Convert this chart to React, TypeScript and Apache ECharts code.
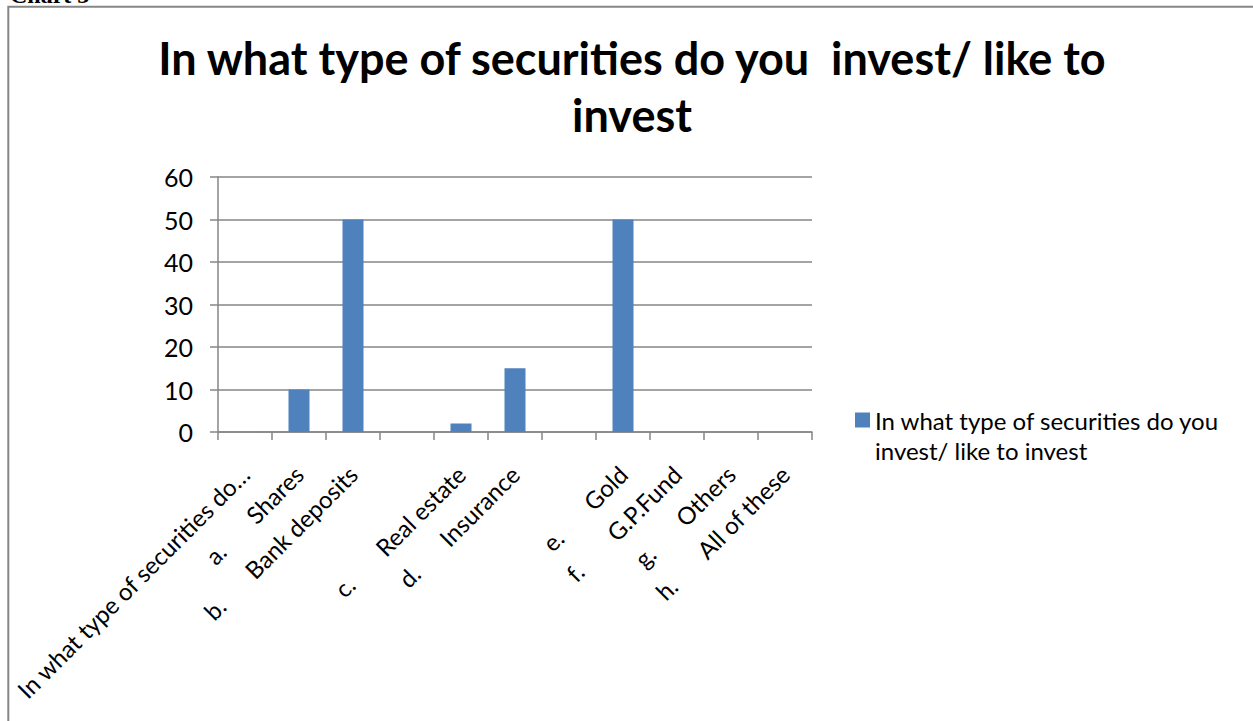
import React, { useEffect, useRef } from "react";
import * as echarts from "echarts";

// Survey question used as the chart title and the series name
const titleLines = ["In what type of securities do you  invest/ like to", "invest"];
const seriesName = "In what type of securities do you invest/ like to invest";
const legendLines = ["In what type of securities do you", "invest/ like to invest"];

// Category labels: item letter + option text ("" where the row has no label)
const categoryPrefixes = ["", "a.", "b.", "", "c.", "d.", "", "e.", "f.", "g.", "h."];
const categoryNames = [
  "In what type of securities do…",
  "Shares",
  "Bank deposits",
  "",
  "Real estate",
  "Insurance",
  "",
  "Gold",
  "G.P.Fund",
  "Others",
  "All of these",
];

// Number of respondents per option
const responseCounts = [0, 10, 50, 0, 2, 15, 0, 50, 0, 0, 0];

// Value axis ticks
const yTicks = [0, 10, 20, 30, 40, 50, 60];

const FONT = "Lato, 'Open Sans', sans-serif";
const AXIS_GRAY = "#868686";
const BAR_BLUE = "#4F81BD";
const LABEL_SIZE = 24;
const TAB_STOP = 58; // distance from the letter to the option text

function textWidth(s: string, font: string): number {
  const c = document.createElement("canvas").getContext("2d");
  if (!c) return s.length * 10;
  c.font = font;
  return c.measureText(s).width;
}

export default function App() {
  const ref = useRef<HTMLDivElement>(null);

  useEffect(() => {
    if (!ref.current) return;
    const chart = echarts.init(ref.current, undefined, { renderer: "svg" });

    const categories = categoryNames.map((n, i) =>
      categoryPrefixes[i] ? `${categoryPrefixes[i]}\u0001${n}` : n
    );
    const labelFont = `${LABEL_SIZE}px Lato`;

    chart.setOption({
      animation: false,
      backgroundColor: "#ffffff",
      textStyle: { fontFamily: FONT },
      title: {
        text: titleLines.join("\n"),
        left: 632,
        top: 29,
        padding: 0,
        textAlign: "center",
        textStyle: {
          fontFamily: FONT,
          fontSize: 45,
          fontWeight: "bold",
          color: "#000000",
          lineHeight: 57,
        },
      },
      legend: {
        left: 855,
        top: 375,
        padding: 0,
        itemWidth: 15,
        itemHeight: 15,
        icon: "rect",
        data: [seriesName],
        formatter: () => `{s|}\n{t|${legendLines[0]}}\n{t|${legendLines[1]}}`,
        textStyle: {
          fontFamily: FONT,
          fontSize: LABEL_SIZE,
          color: "#000000",
          lineHeight: 30,
          rich: {
            s: { height: 30, lineHeight: 30, fontSize: LABEL_SIZE },
            t: { fontFamily: FONT, fontSize: LABEL_SIZE, lineHeight: 30, color: "#000000" },
          },
        },
      },
      grid: { left: 218, right: 441, top: 177, bottom: 289 },
      xAxis: {
        type: "category",
        data: categories,
        boundaryGap: true,
        axisLine: { lineStyle: { color: AXIS_GRAY, width: 1.5 } },
        axisTick: {
          show: true,
          length: 8,
          alignWithLabel: false,
          lineStyle: { color: AXIS_GRAY, width: 1.5 },
        },
        axisLabel: {
          interval: 0,
          rotate: 45,
          margin: 38,
          color: "#000000",
          fontFamily: FONT,
          fontSize: LABEL_SIZE,
          formatter: (v: string) => {
            const parts = v.split("\u0001");
            if (parts.length === 2) {
              const gap = Math.max(4, Math.round(TAB_STOP - textWidth(parts[0], labelFont)));
              return `{p${gap}|${parts[0]}}{t|${parts[1]}}`;
            }
            return `{t|${v}}`;
          },
          rich: (() => {
            const r: Record<string, object> = {
              t: { fontSize: LABEL_SIZE, fontFamily: FONT, color: "#000000" },
            };
            for (let g = 4; g <= TAB_STOP; g++) {
              r["p" + g] = {
                fontSize: LABEL_SIZE,
                fontFamily: FONT,
                color: "#000000",
                padding: [0, g, 0, 0],
              };
            }
            return r;
          })(),
        },
        splitLine: { show: false },
      },
      yAxis: {
        type: "value",
        min: yTicks[0],
        max: yTicks[yTicks.length - 1],
        interval: 10,
        axisLine: { show: true, lineStyle: { color: AXIS_GRAY, width: 1.5 } },
        axisTick: { show: true, length: 8, lineStyle: { color: AXIS_GRAY, width: 1.5 } },
        axisLabel: {
          margin: 25,
          color: "#000000",
          fontFamily: FONT,
          fontSize: 25,
        },
        splitLine: { lineStyle: { color: AXIS_GRAY, width: 1.5 } },
      },
      series: [
        {
          name: seriesName,
          type: "bar",
          data: responseCounts,
          barWidth: 21,
          itemStyle: { color: BAR_BLUE },
        },
      ],
      graphic: [
        {
          type: "rect",
          silent: true,
          shape: { x: 8.3, y: 6.8, width: 1400, height: 900 },
          style: { fill: "none", stroke: AXIS_GRAY, lineWidth: 2 },
        },
        {
          type: "text",
          silent: true,
          x: 10,
          y: 7,
          style: {
            text: "Chart 3",
            fontFamily: "'Liberation Serif', serif",
            fontWeight: "bold",
            fontSize: 24,
            fill: "#000000",
            verticalAlign: "bottom",
          },
        },
      ],
    });

    return () => chart.dispose();
  }, []);

  return (
    <div
      ref={ref}
      style={{ position: "fixed", left: 0, top: 0, width: 1253, height: 721, background: "#fff" }}
    />
  );
}
